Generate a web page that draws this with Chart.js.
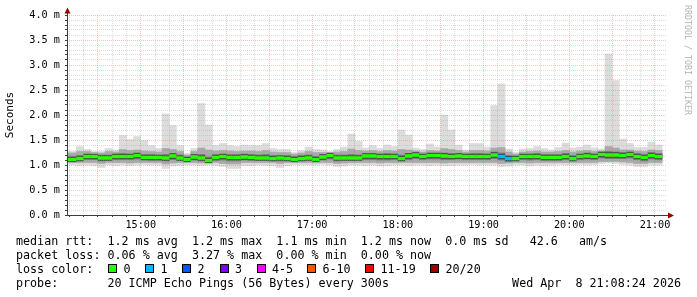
<!DOCTYPE html>
<html>
<head>
<meta charset="utf-8">
<script src="https://cdn.jsdelivr.net/npm/chart.js@4.4.1/dist/chart.umd.min.js"></script>
<style>
  html, body { margin: 0; padding: 0; background: #fff; }
  #wrap { position: relative; width: 697px; height: 297px; overflow: hidden; font-family: 'DejaVu Sans Mono', monospace; color: #000; }
  #wrap canvas { position: absolute; left: 0; top: 0; }
  .line { position: absolute; left: 16px; font-size: 11.7px; line-height: 14px; white-space: pre; }
  .sw { position: absolute; top: 264px; width: 7px; height: 7px; border: 1px solid #000; }
  .lab { position: absolute; top: 262px; font-size: 11.7px; line-height: 14px; white-space: pre; }
  #stamp { position: absolute; right: 16px; top: 276px; font-size: 11.7px; line-height: 14px; white-space: pre; }
  #wm { position: absolute; left: 691.5px; top: 5px; font-size: 8.3px; line-height: 8.3px; color: #b4b4b4; transform: rotate(90deg); transform-origin: 0 0; white-space: pre; }
</style>
</head>
<body>
<div id="wrap">
  <canvas id="myChart" width="697" height="297"></canvas>
  <div id="wm">RRDTOOL / TOBI OETIKER</div>
  <div class="line" style="top:234px">median rtt:  1.2 ms avg  1.2 ms max  1.1 ms min  1.2 ms now  0.0 ms sd   42.6   am/s</div>
  <div class="line" style="top:248px">packet loss: 0.06 % avg  3.27 % max  0.00 % min  0.00 % now</div>
  <div class="line" style="top:262px">loss color:</div>
  <div class="line" style="top:276px">probe:       20 ICMP Echo Pings (56 Bytes) every 300s</div>
  <div id="stamp">Wed Apr  8 21:08:24 2026</div>
</div>
<script>
// 5분 간격 슬롯 시작 시각
const slotTimes = [
  '14:05','14:10','14:15','14:20','14:25','14:30','14:35','14:40','14:45','14:50','14:55',
  '15:00','15:05','15:10','15:15','15:20','15:25','15:30','15:35','15:40','15:45','15:50','15:55',
  '16:00','16:05','16:10','16:15','16:20','16:25','16:30','16:35','16:40','16:45','16:50','16:55',
  '17:00','17:05','17:10','17:15','17:20','17:25','17:30','17:35','17:40','17:45','17:50','17:55',
  '18:00','18:05','18:10','18:15','18:20','18:25','18:30','18:35','18:40','18:45','18:50','18:55',
  '19:00','19:05','19:10','19:15','19:20','19:25','19:30','19:35','19:40','19:45','19:50','19:55',
  '20:00','20:05','20:10','20:15','20:20','20:25','20:30','20:35','20:40','20:45','20:50','20:55',
  '21:00'
];
const viewStart = '14:08:24';
const viewEnd = '21:08:24';

// ms 단위 값
const maxRtt = [1.27,1.27,1.37,1.31,1.27,1.27,1.33,1.30,1.59,1.51, 1.57,1.49,1.39,1.33,2.02,1.79,1.39,1.23,1.33,2.23,
                1.80,1.39,1.43,1.39,1.37,1.40,1.39,1.39,1.43,1.33, 1.31,1.31,1.25,1.29,1.36,1.31,1.30,1.27,1.31,1.36,
                1.62,1.47,1.34,1.39,1.33,1.40,1.37,1.70,1.60,1.34, 1.31,1.42,1.36,2.00,1.70,1.40,1.30,1.43,1.43,1.36,
                2.19,2.62,1.32,1.25,1.32,1.33,1.37,1.33,1.30,1.35, 1.44,1.34,1.36,1.40,1.34,1.32,3.22,2.69,1.52,1.43,
                1.35,1.35,1.46,1.40];
const minRtt = [1.03,1.00,0.99,1.00,0.99,0.95,1.00,0.99,1.00,0.99, 1.00,1.01,1.00,1.00,0.93,0.98,0.99,1.00,1.00,0.99,
                1.00,0.99,0.97,0.93,0.93,0.99,0.99,1.00,0.99,0.99, 0.95,0.99,1.01,1.00,1.00,1.00,1.01,1.00,0.97,0.98,
                1.00,1.00,0.99,1.00,0.98,0.99,1.00,1.00,0.99,1.00, 1.00,0.99,1.00,0.99,0.99,1.00,1.00,1.01,1.00,1.00,
                1.00,0.97,0.98,1.00,1.00,0.98,1.00,0.99,1.00,1.01, 1.00,1.00,1.01,1.00,1.01,1.03,1.04,1.03,1.01,1.00,
                0.97,0.97,1.00,1.00];
const q90Rtt = [1.24,1.24,1.27,1.27,1.25,1.24,1.27,1.26,1.31,1.29, 1.30,1.28,1.27,1.26,1.33,1.31,1.27,1.20,1.27,1.34,
                1.30,1.28,1.29,1.28,1.27,1.28,1.28,1.27,1.29,1.26, 1.25,1.25,1.22,1.24,1.27,1.25,1.25,1.25,1.26,1.27,
                1.32,1.29,1.28,1.29,1.27,1.29,1.28,1.31,1.30,1.28, 1.26,1.29,1.28,1.33,1.31,1.29,1.26,1.29,1.29,1.28,
                1.34,1.35,1.26,1.22,1.26,1.27,1.28,1.26,1.26,1.27, 1.29,1.26,1.28,1.29,1.27,1.28,1.37,1.34,1.30,1.30,
                1.28,1.27,1.30,1.29];
const q10Rtt = [1.06,1.05,1.05,1.05,1.05,1.03,1.05,1.05,1.05,1.04, 1.05,1.05,1.05,1.05,1.02,1.04,1.05,1.05,1.05,1.04,
                1.04,1.05,1.03,1.02,1.02,1.05,1.05,1.05,1.05,1.05, 1.03,1.05,1.05,1.05,1.05,1.05,1.05,1.05,1.03,1.04,
                1.05,1.05,1.05,1.05,1.04,1.05,1.05,1.05,1.05,1.05, 1.05,1.05,1.05,1.04,1.05,1.05,1.05,1.05,1.05,1.05,
                1.05,1.03,1.04,1.05,1.05,1.04,1.05,1.05,1.05,1.05, 1.05,1.05,1.05,1.05,1.05,1.07,1.07,1.07,1.06,1.05,
                1.03,1.03,1.05,1.05];
const q75Rtt = [1.17,1.17,1.19,1.22,1.21,1.20,1.20,1.22,1.23,1.22, 1.24,1.21,1.21,1.20,1.21,1.23,1.20,1.16,1.21,1.21,
                1.16,1.21,1.22,1.21,1.21,1.22,1.21,1.20,1.21,1.19, 1.19,1.19,1.17,1.19,1.20,1.17,1.21,1.23,1.20,1.20,
                1.21,1.20,1.23,1.23,1.22,1.23,1.22,1.20,1.23,1.25, 1.22,1.24,1.24,1.24,1.23,1.23,1.22,1.23,1.23,1.22,
                1.26,1.24,1.19,1.18,1.22,1.22,1.23,1.21,1.21,1.21, 1.23,1.19,1.22,1.24,1.22,1.26,1.27,1.26,1.25,1.26,
                1.23,1.21,1.25,1.23];
const q25Rtt = [1.07,1.07,1.08,1.11,1.11,1.08,1.09,1.11,1.11,1.11, 1.12,1.10,1.09,1.09,1.08,1.11,1.09,1.07,1.10,1.08,
                1.05,1.09,1.10,1.08,1.08,1.10,1.09,1.09,1.09,1.08, 1.08,1.08,1.07,1.08,1.09,1.07,1.10,1.12,1.08,1.09,
                1.09,1.09,1.11,1.11,1.10,1.10,1.11,1.08,1.11,1.13, 1.11,1.12,1.12,1.11,1.11,1.12,1.11,1.11,1.11,1.11,
                1.13,1.10,1.07,1.08,1.11,1.10,1.11,1.09,1.09,1.09, 1.11,1.08,1.11,1.12,1.11,1.14,1.13,1.13,1.13,1.14,
                1.11,1.08,1.12,1.11];
const medRtt = [1.11,1.11,1.13,1.17,1.17,1.14,1.14,1.17,1.17,1.17, 1.19,1.15,1.15,1.15,1.14,1.18,1.14,1.11,1.16,1.14,
                1.09,1.15,1.17,1.15,1.15,1.16,1.15,1.14,1.14,1.13, 1.14,1.13,1.11,1.13,1.14,1.11,1.16,1.19,1.14,1.14,
                1.14,1.14,1.18,1.18,1.17,1.17,1.17,1.13,1.18,1.20, 1.17,1.19,1.19,1.18,1.17,1.18,1.17,1.17,1.17,1.17,
                1.20,1.17,1.13,1.13,1.17,1.17,1.17,1.15,1.15,1.15, 1.17,1.13,1.17,1.18,1.17,1.21,1.20,1.20,1.19,1.21,
                1.17,1.15,1.19,1.17];
// 손실 개수(20개 중)
const lossCount = [0,0,0,0,0,0,0,0,0,0, 0,0,0,0,0,0,0,0,0,0,
                   0,0,0,0,0,0,0,0,0,0, 0,0,0,0,0,0,0,0,0,0,
                   0,0,0,0,0,0,0,0,0,0, 0,0,0,0,0,0,0,0,0,0,
                   0,1,1,0,0,0,0,0,0,0, 0,0,0,0,0,0,0,0,0,0,
                   0,0,0,0];

const lossLabels = ['0','1','2','3','4-5','6-10','11-19','20/20'];
const lossColors = ['#26ff00','#00b8ff','#0059ff','#7e00ff','#ff00fe','#ff5500','#ff0000','#a10000'];

const hourTicks = ['15:00','16:00','17:00','18:00','19:00','20:00','21:00'];
const yTickLabels = ['0.0 m','0.5 m','1.0 m','1.5 m','2.0 m','2.5 m','3.0 m','3.5 m','4.0 m'];

/* ------------------------------ 범례 ------------------------------ */
const swatchX = [108, 145, 182, 219.5, 256.5, 307, 365, 430];
const wrap = document.getElementById('wrap');
lossLabels.forEach((lab, i) => {
	let sw = document.createElement('div');
	sw.className = 'sw';
	sw.style.left = swatchX[i] + 'px';
	sw.style.background = lossColors[i];
	wrap.appendChild(sw);
	let t = document.createElement('div');
	t.className = 'lab';
	t.style.left = (swatchX[i] + 15.5) + 'px';
	t.textContent = lab;
	wrap.appendChild(t);
});

/* ------------------------------ CHART ------------------------------ */
const toMin = (t) => { let p = t.split(':').map(Number); return p[0] * 60 + p[1] + (p[2] || 0) / 60; };
const slotMid = slotTimes.map(t => toMin(t) + 2.5); // 막대 중심

const GRID = 'rgba(150,150,150,0.32)';
const MGRID = 'rgba(255,80,80,0.36)';
const FONT = 'DejaVu Sans Mono';

function band(lo, hi, color, order) {
	return {
		type: 'bar',
		data: slotMid.map((x, i) => ({x: x, y: [lo[i], hi[i]]})),
		backgroundColor: color,
		borderWidth: 0,
		grouped: false,
		barPercentage: 1,
		categoryPercentage: 1,
		order: order
	};
}

// 축선 + 화살표
const axisArrows = {
	id: 'axisArrows',
	afterDraw(chart) {
		const {ctx, chartArea: a} = chart;
		const y0 = a.bottom + 0.5, x0 = a.left + 0.5;
		ctx.save();
		ctx.strokeStyle = '#3c3c3c';
		ctx.lineWidth = 1;
		ctx.beginPath();
		ctx.moveTo(a.left, y0); ctx.lineTo(a.right + 2, y0);
		ctx.moveTo(x0, a.bottom + 1); ctx.lineTo(x0, a.top - 3);
		ctx.stroke();
		ctx.fillStyle = '#990000';
		ctx.beginPath();
		ctx.moveTo(a.right + 1, y0 - 3); ctx.lineTo(a.right + 7, y0); ctx.lineTo(a.right + 1, y0 + 3);
		ctx.closePath(); ctx.fill();
		ctx.beginPath();
		ctx.moveTo(x0 - 3, a.top - 1.5); ctx.lineTo(x0, a.top - 7.5); ctx.lineTo(x0 + 3, a.top - 1.5);
		ctx.closePath(); ctx.fill();
		ctx.restore();
	}
};

const ctx = document.getElementById('myChart');

new Chart(ctx, {
	type: 'bar',
	data: {
		datasets: [
			{
				type: 'bar',
				label: 'median rtt',
				data: slotMid.map((x, i) => ({x: x, y: [medRtt[i] - 0.05, medRtt[i] + 0.05]})),
				backgroundColor: lossCount.map(l => lossColors[l]),
				borderColor: '#3a3a3a',
				borderWidth: {top: 1, bottom: 1, left: 0, right: 0},
				borderSkipped: false,
				grouped: false,
				barPercentage: 1,
				categoryPercentage: 1,
				order: 0
			},
			band(q25Rtt, q75Rtt, '#747474', 1),
			band(q10Rtt, q90Rtt, '#a9a9a9', 2),
			band(minRtt, maxRtt, '#dcdcdc', 3)
		]
	},
	options: {
		responsive: false,
		animation: false,
		devicePixelRatio: 1,
		layout: { padding: {top: 15, right: 30, left: 0, bottom: 0} },
		plugins: { legend: {display: false}, tooltip: {enabled: false} },
		scales: {
			x: {
				type: 'linear',
				min: toMin(viewStart),
				max: toMin(viewEnd),
				offset: false,
				afterBuildTicks: (axis) => {
					let t = [];
					for (let v = 850; v <= 1260; v += 10) t.push({value: v});
					axis.ticks = t;
				},
				afterFit: (s) => { s.height = 82; },
				grid: {
					z: 1,
					offset: false,
					color: (c) => (c.tick && c.tick.value % 30 === 0) ? MGRID : GRID,
					tickLength: 2,
					tickColor: '#444',
				},
				border: { display: false, dash: [1, 1] },
				ticks: {
					autoSkip: false,
					maxRotation: 0,
					padding: 2,
					color: '#000',
					font: {family: FONT, size: 10.2},
					callback: (v) => { let h = hourTicks.find(h => Math.abs(toMin(h) - v) < 1e-6); return h || ''; }
				}
			},
			y: {
				min: 0,
				max: 4,
				afterBuildTicks: (axis) => {
					let t = [];
					for (let i = 0; i <= 40; i++) t.push({value: i / 10});
					axis.ticks = t;
				},
				afterFit: (s) => { s.width = 67; },
				grid: {
					z: 1,
					color: (c) => (c.tick && Math.round(c.tick.value * 10) % 5 === 0) ? MGRID : GRID,
					tickLength: 2,
					tickColor: '#444',
				},
				border: { display: false, dash: [1, 1] },
				title: {
					display: true,
					text: 'Seconds',
					color: '#000',
					font: {family: FONT, size: 11},
					padding: {top: 4, bottom: 0}
				},
				ticks: {
					autoSkip: false,
					padding: 5,
					color: '#000',
					font: {family: FONT, size: 10.2},
					callback: (v) => {
						let i = Math.round(v * 2);
						return Math.abs(v * 2 - i) < 1e-6 ? yTickLabels[i] : '';
					}
				}
			}
		}
	},
	plugins: [axisArrows]
});
</script>
</body>
</html>
